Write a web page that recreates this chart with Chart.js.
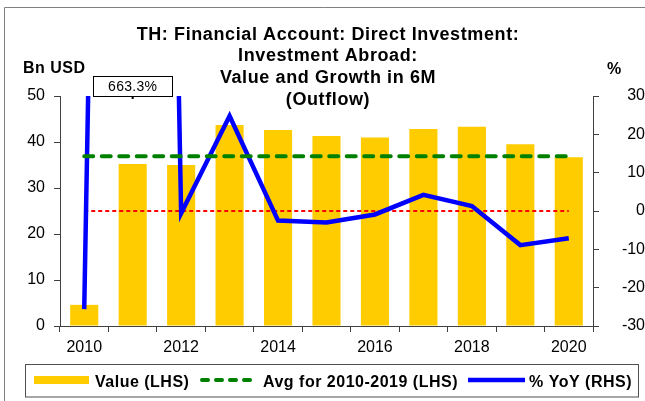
<!DOCTYPE html>
<html>
<head>
<meta charset="utf-8">
<script src="https://cdn.jsdelivr.net/npm/chart.js@4"></script>
<style>
  html, body { margin: 0; padding: 0; background: #fff; }
  #wrap { position: relative; width: 645px; height: 401px; }
</style>
</head>
<body>
<div id="wrap"><canvas id="fdi-abroad"></canvas></div>
<script>
const years = ['2010', '2011', '2012', '2013', '2014', '2015', '2016', '2017', '2018', '2019', '2020'];
const valueBn = [4.6, 35.2, 35.0, 43.7, 42.6, 41.3, 41.0, 42.8, 43.3, 39.5, 36.7];
const yoyPct = [-25.6, 663.3, -0.6, 24.8, -2.5, -3.0, -0.9, 4.2, 1.3, -8.9, -7.1];
const avg2010to2019 = 36.9;

const titleLines = [
    'TH: Financial Account: Direct Investment:',
    'Investment Abroad:',
    'Value and Growth in 6M',
    '(Outflow)'
];
const legendLabels = ['Value (LHS)', 'Avg for 2010-2019 (LHS)', '% YoY (RHS)'];

const GOLD = '#FFCC00';
const GREEN = '#008000';
const BLUE = '#0000FF';
const RED = '#FF0000';
const AXIS = '#404040';
const FONT = '"Liberation Sans", Arial, sans-serif';

Chart.defaults.font.family = FONT;
Chart.defaults.font.size = 16;
Chart.defaults.color = '#000';

// title, unit labels, the off-scale value box, legend and frame
const decorations = {
    id: 'decorations',
    afterDraw(chart) {
        const { ctx, chartArea, scales } = chart;
        ctx.save();

        ctx.strokeStyle = '#808080';
        ctx.lineWidth = 1;
        ctx.beginPath();
        ctx.moveTo(4.5, 401);
        ctx.lineTo(4.5, 7.5);
        ctx.lineTo(645, 7.5);
        ctx.stroke();

        ctx.fillStyle = '#000';
        ctx.font = 'bold 18px ' + FONT;
        ctx.letterSpacing = '0.6px';
        ctx.textAlign = 'center';
        ctx.textBaseline = 'alphabetic';
        titleLines.forEach((t, i) => ctx.fillText(t, 328, 39.5 + i * 21.7));

        ctx.font = 'bold 16px ' + FONT;
        ctx.letterSpacing = '0.5px';
        ctx.textAlign = 'left';
        ctx.fillText('Bn USD', 23, 72.5);
        ctx.fillText('%', 607, 73.5);

        // 2011 growth is far above the axis, so its value sits in a box
        const bx = scales.x.getPixelForValue(1);
        const top = chartArea.top;
        ctx.fillStyle = '#fff';
        ctx.fillRect(bx - 39.5, top - 20, 79, 20);
        ctx.strokeStyle = '#000';
        ctx.lineWidth = 1;
        ctx.strokeRect(Math.round(bx - 39.5) + 0.5, top - 19.5, 79, 20);
        ctx.lineWidth = 2;
        ctx.beginPath();
        ctx.moveTo(bx, top);
        ctx.lineTo(bx, top + 3);
        ctx.stroke();
        ctx.fillStyle = '#000';
        ctx.font = '14px ' + FONT;
        ctx.letterSpacing = '0.3px';
        ctx.textAlign = 'center';
        ctx.fillText(yoyPct[1].toFixed(1) + '%', bx, top - 5);

        // legend
        ctx.strokeStyle = '#505050';
        ctx.lineWidth = 1;
        ctx.strokeRect(25.5, 364.5, 613, 32.5);
        ctx.fillStyle = GOLD;
        ctx.fillRect(34, 376, 55, 8);

        ctx.strokeStyle = GREEN;
        ctx.lineWidth = 4;
        ctx.lineCap = 'round';
        ctx.setLineDash([6, 8]);
        ctx.beginPath();
        ctx.moveTo(202, 380);
        ctx.lineTo(256, 380);
        ctx.stroke();
        ctx.setLineDash([]);

        ctx.strokeStyle = BLUE;
        ctx.lineWidth = 4.5;
        ctx.lineCap = 'butt';
        ctx.beginPath();
        ctx.moveTo(468, 380);
        ctx.lineTo(525, 380);
        ctx.stroke();

        ctx.fillStyle = '#000';
        ctx.font = 'bold 16px ' + FONT;
        ctx.letterSpacing = '0.5px';
        ctx.textAlign = 'left';
        ctx.fillText(legendLabels[0], 95, 387);
        ctx.fillText(legendLabels[1], 263, 387);
        ctx.fillText(legendLabels[2], 529, 387);

        ctx.restore();
    }
};

const axisGrid = { drawOnChartArea: false, tickLength: 6, color: AXIS, tickWidth: 1 };

new Chart(document.getElementById('fdi-abroad'), {
    data: {
        labels: years,
        datasets: [
            {
                type: 'bar',
                label: legendLabels[0],
                data: valueBn,
                backgroundColor: GOLD,
                barPercentage: 0.58,
                categoryPercentage: 1,
                yAxisID: 'y',
                order: 4
            },
            {
                type: 'line',
                label: 'zero',
                data: years.map(() => 0),
                borderColor: RED,
                borderWidth: 1.8,
                borderDash: [4, 3],
                pointRadius: 0,
                yAxisID: 'y1',
                order: 3
            },
            {
                type: 'line',
                label: legendLabels[2],
                data: yoyPct,
                borderColor: BLUE,
                borderWidth: 4.5,
                borderJoinStyle: 'miter',
                pointRadius: 0,
                tension: 0,
                yAxisID: 'y1',
                order: 2
            },
            {
                type: 'line',
                label: legendLabels[1],
                data: years.map(() => avg2010to2019),
                borderColor: GREEN,
                borderWidth: 4,
                borderDash: [9, 8.5],
                borderCapStyle: 'round',
                pointRadius: 0,
                yAxisID: 'y',
                order: 1
            }
        ]
    },
    options: {
        responsive: true,
        maintainAspectRatio: false,
        animation: false,
        layout: { padding: { top: 96, bottom: 35, left: 0, right: 0 } },
        plugins: {
            legend: { display: false },
            tooltip: { enabled: false }
        },
        scales: {
            x: {
                grid: { ...axisGrid, offset: true },
                border: { color: AXIS },
                ticks: {
                    autoSkip: false,
                    maxRotation: 0,
                    padding: 6,
                    callback: (v, i) => (i % 2 === 0 ? years[i] : '')
                },
                afterFit: (s) => { s.height = 40; }
            },
            y: {
                position: 'left',
                min: 0,
                max: 50,
                grid: axisGrid,
                border: { color: AXIS },
                ticks: { stepSize: 10, padding: 9 },
                afterFit: (s) => { s.width = 60; }
            },
            y1: {
                position: 'right',
                min: -30,
                max: 30,
                grid: axisGrid,
                border: { color: AXIS },
                ticks: { stepSize: 10, padding: 20, crossAlign: 'far' },
                afterFit: (s) => { s.width = 52; }
            }
        }
    },
    plugins: [decorations]
});
</script>
</body>
</html>
